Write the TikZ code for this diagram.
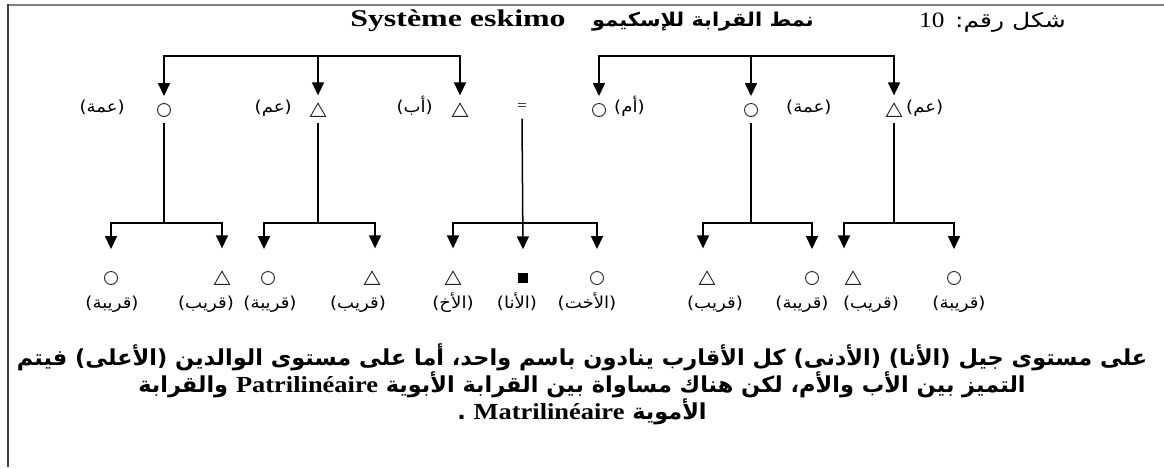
\documentclass[tikz,border=0pt]{standalone}
\usepackage{fontspec}
\usetikzlibrary{arrows.meta,shapes.geometric}
\TeXXeTstate=1
\newfontfamily\arabfont[Script=Arabic,FakeStretch=1.1]{DejaVu Sans}
\newfontfamily\arabtitle[Script=Arabic,FakeStretch=1.1]{DejaVu Sans}
\newfontfamily\arabfig[Script=Arabic,FakeStretch=1.25]{DejaVu Sans}
\newfontfamily\arabbody[Script=Arabic,FakeStretch=1.02]{DejaVu Sans}
\newfontfamily\lattitle[FakeStretch=1.33]{Liberation Serif}
\newfontfamily\latbody[FakeStretch=1.15]{Liberation Serif}
\begin{document}
\begin{tikzpicture}[x=1pt,y=-1pt,
  conn/.style={line width=1.5pt, draw=black},
  arr/.style={conn, -{Triangle[width=12pt,length=13pt]}},
  fem/.style={circle, draw=black!85, line width=0.9pt, minimum size=13pt, inner sep=0pt},
  mal/.style={regular polygon, regular polygon sides=3, draw=black!85, line width=0.9pt, minimum size=17.5pt, inner sep=0pt},
  ego/.style={rectangle, fill=black, minimum size=10pt, inner sep=0pt},
  lbl/.style={font=\arabfont\fontsize{16.5}{18}\selectfont, inner sep=0pt},
  frame/.style={line width=2pt},
]
\useasboundingbox (0,0) rectangle (1164,467);
\fill[white] (0,0) rectangle (1164,467);
\draw[frame, draw=black!50] (7,5) -- (1164,5);
\draw[frame, draw=black!75] (8,4) -- (8,467);

% titles
\node[font=\lattitle\bfseries\fontsize{24}{26}\selectfont, inner sep=0pt] (t1) at (458,21) {Système eskimo};
\node[font=\arabtitle\bfseries\fontsize{19}{21}\selectfont, inner sep=0pt] (t2) at (703,22) {\beginR نمط القرابة للإسكيمو\endR};
\node[font=\arabfig\fontsize{20}{22}\selectfont, inner sep=0pt, anchor=east] (t3) at (1066,22) {\beginR شكل رقم: {\latbody\fontsize{22}{24}\selectfont 10}\endR};

% row 1
\node[fem] (A1) at (164,110) {};
\node[mal] (A2) at (318,112) {};
\node[mal] (A3) at (460,112) {};
\node[fem] (A4) at (599,110) {};
\node[fem] (A5) at (751,110) {};
\node[mal] (A6) at (894,112) {};
\node[font=\latbody\fontsize{15}{16}\selectfont, inner sep=0pt] (eq) at (522,107) {=};

\node[lbl, anchor=base east] (LA1) at (125,112) {\beginR(عمة)\endR};
\node[lbl, anchor=base east] (LA2) at (292,112) {\beginR(عم)\endR};
\node[lbl, anchor=base east] (LA3) at (433,112) {\beginR(أب)\endR};
\node[lbl, anchor=base west] (LA4) at (614,112) {\beginR(أم)\endR};
\node[lbl, anchor=base west] (LA5) at (786,112) {\beginR(عمة)\endR};
\node[lbl, anchor=base west] (LA6) at (906,112) {\beginR(عم)\endR};

% top brackets
\coordinate (TL) at (318,56);
\coordinate (TR) at (751,56);
\draw[arr] (TL) -| ([yshift=7pt]A1.north);
\draw[arr] (TL) -- ([yshift=7pt]A2.north);
\draw[arr] (TL) -| ([yshift=7pt]A3.north);
\draw[arr] (TR) -| ([yshift=7pt]A4.north);
\draw[arr] (TR) -- ([yshift=7pt]A5.north);
\draw[arr] (TR) -| ([yshift=7pt]A6.north);

% row 3
\node[fem] (C1) at (111,278) {};
\node[mal] (C2) at (222,280) {};
\node[fem] (C3) at (268,278) {};
\node[mal] (C4) at (372,280) {};
\node[mal] (C5) at (453,280) {};
\node[ego] (C6) at (523,278) {};
\node[fem] (C7) at (597,278) {};
\node[mal] (C8) at (707,280) {};
\node[fem] (C9) at (812,278) {};
\node[mal] (C10) at (853,280) {};
\node[fem] (C11) at (954,278) {};

\node[lbl, anchor=base] (LC1) at (112,308) {\beginR(قريبة)\endR};
\node[lbl, anchor=base] (LC2) at (206,308) {\beginR(قريب)\endR};
\node[lbl, anchor=base] (LC3) at (270,308) {\beginR(قريبة)\endR};
\node[lbl, anchor=base] (LC4) at (358,308) {\beginR(قريب)\endR};
\node[lbl, anchor=base] (LC5) at (453,308) {\beginR(الأخ)\endR};
\node[lbl, anchor=base] (LC6) at (517,308) {\beginR(الأنا)\endR};
\node[lbl, anchor=base] (LC7) at (587,308) {\beginR(الأخت)\endR};
\node[lbl, anchor=base] (LC8) at (715,308) {\beginR(قريب)\endR};
\node[lbl, anchor=base] (LC9) at (802,308) {\beginR(قريبة)\endR};
\node[lbl, anchor=base] (LC10) at (871,308) {\beginR(قريب)\endR};
\node[lbl, anchor=base] (LC11) at (959,308) {\beginR(قريبة)\endR};

% second-level brackets
\coordinate (B1) at (164,223);
\coordinate (B2) at (318,223);
\coordinate (B3) at (523,223);
\coordinate (B4) at (751,223);
\coordinate (B5) at (894,223);
\draw[conn] ([yshift=-6pt]A1.south) -- (B1);
\draw[conn] ([yshift=-6pt]A2.south) -- (B2);
\draw[conn] ([yshift=-6pt]A5.south) -- (B4);
\draw[conn] ([yshift=-6pt]A6.south) -- (B5);
\draw[arr] (B1) -| ([yshift=22pt]C1.north);
\draw[arr] (B1) -| ([yshift=22pt]C2.north);
\draw[arr] (B2) -| ([xshift=-4pt,yshift=22pt]C3.north);
\draw[arr] (B2) -| ([xshift=3pt,yshift=22pt]C4.north);
\draw[arr] (B3) -| ([yshift=22pt]C5.north);
\draw[arr] ([yshift=-8pt]eq.south) -- ([yshift=23.5pt]C6.north);
\draw[arr] (B3) -| ([yshift=22pt]C7.north);
\draw[arr] (B4) -| ([xshift=-4pt,yshift=22pt]C8.north);
\draw[arr] (B4) -| ([yshift=22pt]C9.north);
\draw[arr] (B5) -| ([xshift=-9pt,yshift=22pt]C10.north);
\draw[arr] (B5) -| ([yshift=22pt]C11.north);

% bottom paragraph
\node[font=\arabbody\bfseries\fontsize{22}{25}\selectfont, align=center, inner sep=0pt] (body) at (582,384)
 {\beginR على مستوى جيل (الأنا) (الأدنى) كل الأقارب ينادون باسم واحد، أما على مستوى الوالدين (الأعلى) فيتم\endR\\
  \beginR التميز بين الأب والأم، لكن هناك مساواة بين القرابة الأبوية \beginL{\latbody\bfseries\fontsize{23}{25}\selectfont Patrilinéaire}\endL{} والقرابة\endR\\
  \beginR الأموية \beginL{\latbody\bfseries\fontsize{23}{25}\selectfont Matrilinéaire}\endL{} .\endR};
\end{tikzpicture}
\end{document}
